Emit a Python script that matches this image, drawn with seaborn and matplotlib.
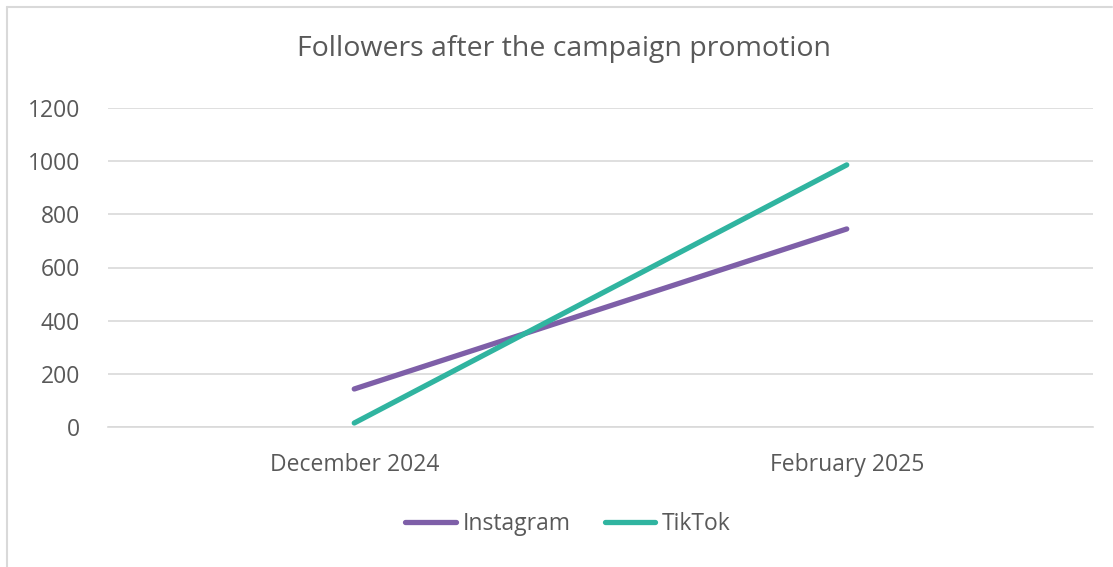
import matplotlib
matplotlib.use("Agg")
import matplotlib.pyplot as plt
import seaborn as sns
import pandas as pd
from matplotlib.lines import Line2D

categories = ["December 2024", "February 2025"]
instagram = [143, 745]
tiktok = [15, 986]
series_names = ["Instagram", "TikTok"]
y_ticks = [0, 200, 400, 600, 800, 1000, 1200]

sns.set_theme(style="white")
plt.rcParams['font.family'] = ['Open Sans', 'DejaVu Sans']

df = pd.DataFrame({
    "x": list(range(len(categories))) * 2,
    "value": instagram + tiktok,
    "series": [series_names[0]] * len(categories) + [series_names[1]] * len(categories),
})

fig = plt.figure(figsize=(11.13, 5.67), dpi=100)
ax = fig.add_axes([108/1113, 1-427/567, (1093-108)/1113, (427-108)/567])

palette = {"Instagram": "#7E5FA8", "TikTok": "#30B4A0"}
sns.lineplot(data=df, x="x", y="value", hue="series", palette=palette, ax=ax,
             linewidth=3.8, legend=False, solid_capstyle="round")

ax.set_xlim(-0.5, 1.5)
ax.set_ylim(0, 1200)
ax.set_yticks(y_ticks)
ax.set_yticklabels([str(v) for v in y_ticks])
ax.set_xticks(range(len(categories)))
ax.set_xticklabels(categories)
ax.set_xlabel("")
ax.set_ylabel("")
text_color = "#595959"
ax.tick_params(axis="y", length=0, pad=20, labelsize=16.5, labelcolor=text_color)
ax.tick_params(axis="x", length=0, pad=19, labelsize=16.5, labelcolor=text_color)
ax.grid(axis="y", color="#D9D9D9", linewidth=1.2)
ax.grid(axis="x", visible=False)
for s in ["top", "right", "left"]:
    ax.spines[s].set_visible(False)
ax.spines["bottom"].set_color("#D9D9D9")
ax.spines["bottom"].set_linewidth(1.2)

fig.text(564/1113, 1-49/567, "Followers after the campaign promotion",
         ha="center", va="center", fontsize=20.5, color=text_color)

handles = [Line2D([0], [0], color=palette[n], linewidth=3.8, solid_capstyle="round") for n in series_names]
fig.legend(handles, series_names, loc="center", bbox_to_anchor=(568/1113, 1-524/567),
           ncol=2, frameon=False, fontsize=16.5, labelcolor=text_color,
           handlelength=2.2, handletextpad=0.3, columnspacing=1.5)

# chart area border (left and top edges visible)
fig.add_artist(Line2D([7/1113, 7/1113], [0, 1-6.5/567], transform=fig.transFigure,
                      color="#D9D9D9", linewidth=1.5))
fig.add_artist(Line2D([7/1113, 1112/1113], [1-6.5/567, 1-6.5/567], transform=fig.transFigure,
                      color="#D9D9D9", linewidth=1.5))

fig.savefig("out.png", dpi=100, facecolor="white")
